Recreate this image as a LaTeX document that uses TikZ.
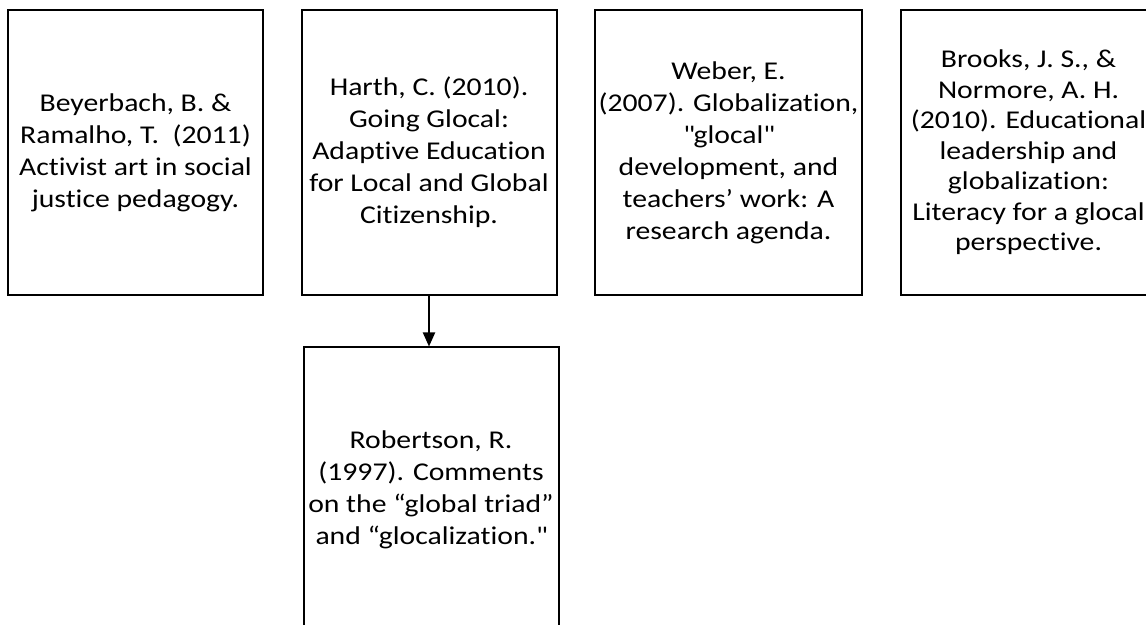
\documentclass[tikz,border=0pt]{standalone}
\usepackage{fontspec}
\setmainfont{Carlito}[FakeStretch=1.16, Ligatures=NoCommon]
\usetikzlibrary{arrows.meta}

\tikzset{
  refbox/.style={draw=black, line width=1pt, rectangle, align=center,
    minimum width=127.5pt, minimum height=142.5pt, inner sep=0pt,
    font=\fontsize{12.8}{16}\selectfont},
}

\begin{document}
\begin{tikzpicture}[x=0.5pt, y=-0.5pt]
            \useasboundingbox (0, 0) rectangle (1146, 625);
            \clip (0, 0) rectangle (1146, 625);

            \node[refbox] (beyerbach) at (135.5, 152.5) {Beyerbach, B. \&\\Ramalho, T.\ \ (2011)\\Activist art in social\\justice pedagogy.};
            \node[refbox] (harth) at (429, 152.5) {Harth, C. (2010).\\Going Glocal:\\Adaptive Education\\for Local and Global\\Citizenship.};
            \node[refbox, minimum width=133.5pt] (weber) at (728.5, 152.5) {Weber, E.\\(2007). Globalization,\\\textquotedbl glocal\textquotedbl\\development, and\\teachers’ work: A\\research agenda.};
            \node[refbox, font=\fontsize{12.8}{15.25}\selectfont] (brooks) at (1028.5, 152.5) {Brooks, J. S., \&\\Normore, A. H.\\(2010). Educational\\leadership and\\globalization:\\Literacy for a glocal\\perspective.};

            \node[refbox] (robertson) at (431, 490) {Robertson, R.\\(1997). Comments\\on the “global triad”\\and “glocalization.\textquotedbl};

            \draw[-{Triangle[width=6pt, length=7pt]}, line width=1pt] (harth) -- (harth |- robertson.north);
        \end{tikzpicture}
\end{document}
